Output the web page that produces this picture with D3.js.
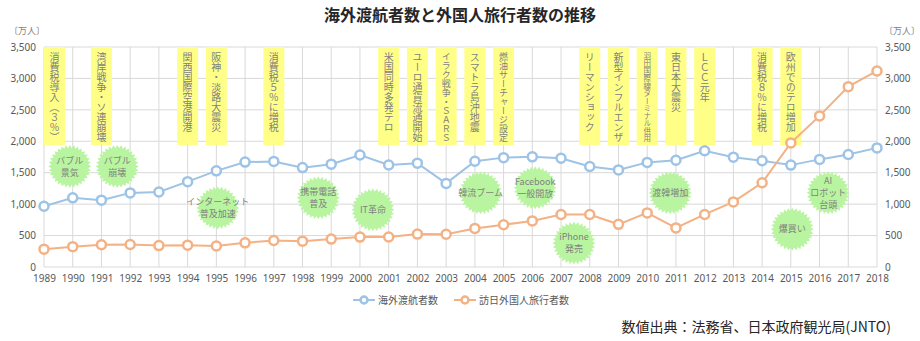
<!DOCTYPE html>
<html>
<head>
<meta charset="utf-8">
<script src="https://cdn.jsdelivr.net/npm/d3@7"></script>
<style>
  html, body { margin: 0; padding: 0; background: #fff; }
  svg { display: block; font-family: "Noto Sans CJK JP", "Noto Sans", sans-serif; }
</style>
</head>
<body>
<svg id="chart" width="920" height="341"></svg>
<script>
// 年次
const years = d3.range(1989, 2019);

// 海外渡航者数（万人）
const outbound = [966, 1100, 1063, 1179, 1193, 1358, 1530, 1669, 1680, 1581,
                  1636, 1782, 1622, 1652, 1330, 1683, 1740, 1753, 1730, 1599,
                  1545, 1664, 1699, 1849, 1747, 1690, 1621, 1712, 1789, 1895];

// 訪日外国人旅行者数（万人）
const inbound = [284, 324, 354, 358, 341, 347, 335, 384, 422, 411,
                 444, 476, 477, 524, 521, 614, 673, 733, 835, 835,
                 679, 861, 622, 836, 1036, 1341, 1974, 2404, 2869, 3119];

const yTicks = [0, 500, 1000, 1500, 2000, 2500, 3000, 3500];

// 出来事（縦書きラベル）
const eventYears = [1989, 1991, 1994, 1995, 1997, 2001, 2002, 2003, 2004, 2005,
                    2008, 2009, 2010, 2011, 2012, 2014, 2015];
const eventTexts = ["消費税導入（３％）", "湾岸戦争・ソ連崩壊", "関西国際空港開港", "阪神・淡路大震災",
                    "消費税５％に増税", "米国同時多発テロ", "ユーロ通貨流通開始", "イラク戦争・ＳＡＲＳ",
                    "スマトラ島沖地震", "燃油サーチャージ設定", "リーマンショック", "新型インフルエンザ",
                    "羽田国際線ターミナル供用", "東日本大震災", "ＬＣＣ元年", "消費税８％に増税", "欧州でのテロ増加"];

// 世相（吹き出し）: 年位置・値位置・文言
const topicYears = [1989.9, 1991.55, 1995.05, 1998.55, 2000.45, 2004.2, 2006.1, 2007.45, 2010.8, 2015.05, 2016.3];
const topicValues = [1600, 1600, 940, 1100, 910, 1180, 1260, 380, 1180, 600, 1180];
const topicTexts = [["バブル", "景気"], ["バブル", "崩壊"], ["インターネット", "普及加速"], ["携帯電話", "普及"],
                    ["IT革命"], ["韓流ブーム"], ["Facebook", "一般開放"], ["iPhone", "発売"],
                    ["渡韓増加"], ["爆買い"], ["AI", "ロボット", "台頭"]];

const seriesNames = ["海外渡航者数", "訪日外国人旅行者数"];
const seriesColors = ["#9dc3e6", "#f4b183"];

const svg = d3.select("#chart");
const plotLeft = 44, plotRight = 877, plotTop = 47, plotBottom = 267;

const x = d3.scaleLinear().domain([1989, 2018]).range([plotLeft, plotRight]);
const y = d3.scaleLinear().domain([0, 3500]).range([plotBottom, plotTop]);

// タイトル
svg.append("text")
  .attr("x", 460).attr("y", 21)
  .attr("text-anchor", "middle")
  .attr("font-size", 16).attr("font-weight", "bold")
  .attr("fill", "#262626")
  .text("海外渡航者数と外国人旅行者数の推移");

// グリッド
const grid = svg.append("g");
grid.selectAll("line.h").data(yTicks).join("line").attr("class", "h")
  .attr("x1", plotLeft).attr("x2", plotRight)
  .attr("y1", d => y(d)).attr("y2", d => y(d))
  .attr("stroke", "#d9d9d9").attr("stroke-width", 1);
grid.selectAll("line.v").data(years).join("line").attr("class", "v")
  .attr("x1", d => x(d)).attr("x2", d => x(d))
  .attr("y1", plotTop).attr("y2", plotBottom)
  .attr("stroke", "#d9d9d9").attr("stroke-width", 1);

// 軸
const fmt = d3.format(",");
const axisL = svg.append("g").attr("transform", `translate(${plotLeft},0)`)
  .call(d3.axisLeft(y).tickValues(yTicks).tickFormat(fmt).tickSize(0).tickPadding(8));
const axisR = svg.append("g").attr("transform", `translate(${plotRight},0)`)
  .call(d3.axisRight(y).tickValues(yTicks).tickFormat(fmt).tickSize(0).tickPadding(8));
const axisB = svg.append("g").attr("transform", `translate(0,${plotBottom})`)
  .call(d3.axisBottom(x).tickValues(years).tickFormat(d3.format("d")).tickSize(0).tickPadding(8));
[axisL, axisR, axisB].forEach(g => {
  g.select(".domain").remove();
  g.selectAll("text").attr("fill", "#595959").attr("font-size", 10)
    .attr("font-family", "'Noto Sans', sans-serif");
});

svg.append("text").attr("x", 9).attr("y", 34).attr("font-size", 9).attr("fill", "#7f7f7f").text("〔万人〕");
svg.append("text").attr("x", 884).attr("y", 34).attr("font-size", 9).attr("fill", "#7f7f7f").text("〔万人〕");

// 出来事ラベル
const boxW = 21, boxBottom = 145;
const ev = svg.append("g").selectAll("g").data(eventYears.map((yr, i) => ({ yr, t: eventTexts[i] }))).join("g");
ev.append("rect")
  .attr("x", d => Math.max(plotLeft, x(d.yr) - boxW / 2))
  .attr("y", plotTop).attr("width", boxW).attr("height", boxBottom - plotTop)
  .attr("fill", "#ffff88");
ev.append("text")
  .attr("x", d => Math.max(plotLeft, x(d.yr) - boxW / 2) + boxW / 2)
  .attr("y", plotTop + 5)
  .style("writing-mode", "vertical-rl")
  .attr("font-size", d => Math.min(10, 90 / d.t.length))
  .attr("fill", "#7f7f7f")
  .text(d => d.t);

// 吹き出し（ギザギザ円）
function burst(r1, r2, n) {
  const pts = [];
  for (let i = 0; i < n * 2; i++) {
    const a = Math.PI * i / n;
    const r = i % 2 === 0 ? r1 : r2;
    pts.push([r * Math.sin(a), -r * Math.cos(a)]);
  }
  return "M" + pts.map(p => p.join(",")).join("L") + "Z";
}
const tp = svg.append("g").selectAll("g")
  .data(topicYears.map((yr, i) => ({ yr, v: topicValues[i], lines: topicTexts[i] }))).join("g")
  .attr("transform", d => `translate(${x(d.yr)},${y(d.v)})`);
tp.append("path").attr("d", burst(21.5, 18.5, 32)).attr("fill", "#b9f5a0");
tp.each(function(d) {
  const g = d3.select(this);
  const lh = 12, n = d.lines.length;
  d.lines.forEach((s, i) => {
    g.append("text")
      .attr("x", 0).attr("y", (i - (n - 1) / 2) * lh)
      .attr("dy", "0.35em")
      .attr("text-anchor", "middle")
      .attr("font-size", 9).attr("fill", "#7f7f7f")
      .text(s);
  });
});

// 系列
const series = [outbound, inbound];
const line = d3.line().x((d, i) => x(years[i])).y(d => y(d));
series.forEach((vals, k) => {
  const g = svg.append("g");
  g.append("path").datum(vals).attr("d", line)
    .attr("fill", "none").attr("stroke", seriesColors[k]).attr("stroke-width", 2);
  g.selectAll("circle").data(vals).join("circle")
    .attr("cx", (d, i) => x(years[i])).attr("cy", d => y(d))
    .attr("r", 4.5).attr("fill", "#fff")
    .attr("stroke", seriesColors[k]).attr("stroke-width", 2.5);
});

// 凡例
const legX = [353, 454];
seriesNames.forEach((name, k) => {
  const g = svg.append("g").attr("transform", `translate(${legX[k]},300)`);
  g.append("line").attr("x1", 0).attr("x2", 22).attr("y1", 0).attr("y2", 0)
    .attr("stroke", seriesColors[k]).attr("stroke-width", 2);
  g.append("circle").attr("cx", 11).attr("cy", 0).attr("r", 3.5)
    .attr("fill", "#fff").attr("stroke", seriesColors[k]).attr("stroke-width", 2.5);
  g.append("text").attr("x", 25).attr("y", 0).attr("dy", "0.35em")
    .attr("font-size", 10).attr("fill", "#595959").text(name);
});

// 出典
svg.append("text")
  .attr("x", 891).attr("y", 332).attr("text-anchor", "end")
  .attr("font-size", 14).attr("fill", "#262626")
  .text("数値出典：法務省、日本政府観光局(JNTO)");
</script>
</body>
</html>
